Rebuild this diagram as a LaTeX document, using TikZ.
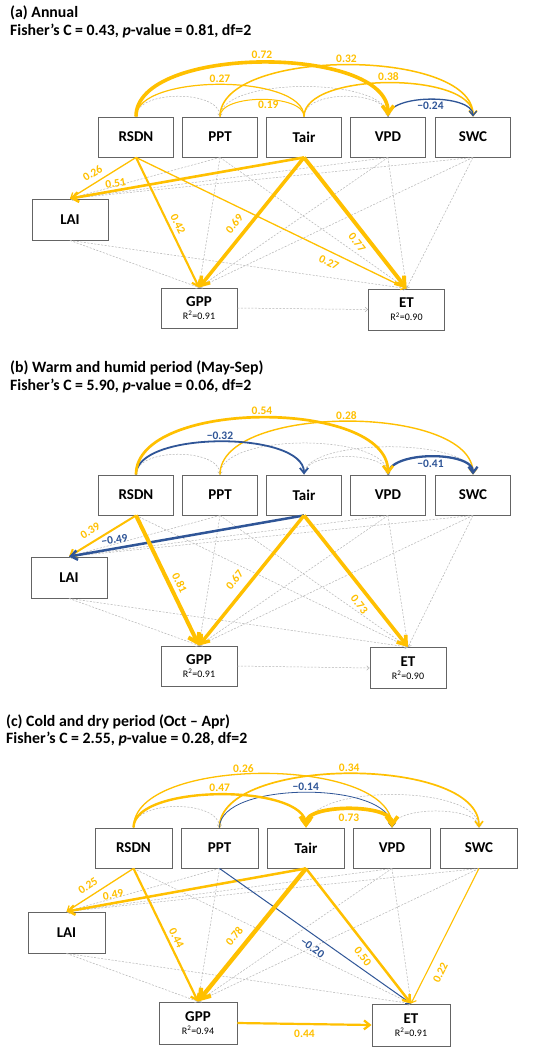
\documentclass[tikz,border=0pt]{standalone}
\usepackage{fontspec}
\setmainfont{Carlito}
\usetikzlibrary{arrows.meta,calc}
\definecolor{gold}{RGB}{255,192,0}
\definecolor{navy}{RGB}{47,85,151}
\definecolor{boxgray}{RGB}{100,100,100}
\definecolor{dashgray}{RGB}{180,180,180}
\newcommand{\rsq}[1]{{\normalfont\fontsize{10}{11}\selectfont R\textsuperscript{2}=#1}}
\tikzset{
  box/.style={draw=boxgray, line width=0.9pt, minimum width=75pt, minimum height=40pt, inner sep=0pt, align=center, font=\bfseries\fontsize{15}{16}\selectfont},
  tipa/.tip={Straight Barb[length=2.5pt 1.5, width=5pt 1.8]},
  posarr/.style={draw=gold, line width=#1pt, -{tipa}},
  negarr/.style={draw=navy, line width=#1pt, -{tipa}},
  nsarr/.style={draw=dashgray, line width=0.5pt, dash pattern=on 2pt off 1.5pt, -{Straight Barb[length=2.5pt, width=4.5pt]}},
  gl/.style={font=\bfseries\fontsize{11.5}{12}\selectfont, text=gold, inner sep=1pt},
  bl/.style={font=\bfseries\fontsize{11.5}{12}\selectfont, text=navy, inner sep=1pt},
  ttl/.style={anchor=west, font=\bfseries\fontsize{15.8}{17}\selectfont, inner sep=0pt},
}
\begin{document}
\begin{tikzpicture}[x=1pt, y=-1pt]
\useasboundingbox[fill=white] (0,0) rectangle (550,1050);

%%%%%%%%%%%%%%%% (a)
\node[ttl] (ta1) at (10,13) {(a) Annual};
\node[ttl] (ta2) at (10,31) {Fisher’s C = 0.43, \textit{p}-value = 0.81, df=2};
\node[box] (aR) at (136,137) {RSDN};
\node[box] (aP) at (220,137) {PPT};
\node[box] (aT) at (304,137) {Tair};
\node[box] (aV) at (388,137) {VPD};
\node[box] (aS) at (473,137) {SWC};
\node[box, minimum width=76pt, minimum height=41pt] (aL) at (70,219.5) {LAI};
\node[box, minimum width=76pt] (aG) at (199,308) {GPP\\[-3pt]\rsq{0.91}};
\node[box, minimum width=76pt, minimum height=41pt] (aE) at (406.5,309.5) {ET\\[-3pt]\rsq{0.90}};
% non significant
\foreach \s/\t in {aP/aL, aP/aG, aP/aE, aV/aL, aV/aG, aV/aE, aS/aL, aS/aG, aS/aE, aL/aG, aL/aE}
  \draw[nsarr] (\s.south) -- (\t.north);
\draw[nsarr] (aG.east) -- (aE.west);
\draw[nsarr] (aR.north) .. controls +(0,-27) and +(0,-27) .. (aP.north);
\draw[nsarr] (aP.north) .. controls +(0,-40) and +(0,-40) .. (aV.north);
\draw[nsarr] (aT.north) .. controls +(0,-27) and +(0,-27) .. (aV.north);
% arcs
\draw[gold, line width=1.2pt] (aR.north) .. controls +(0,-43) and +(0,-43) .. (aT.north) node[midway, above, gl] {0.27};
\draw[gold, line width=1pt] (aP.north) .. controls +(0,-23) and +(0,-23) .. (aT.north) node[pos=0.55, below, gl] {0.19};
\draw[posarr=1.5] (aP.north) .. controls +(0,-69) and +(0,-69) .. (aS.north) node[midway, above, gl] {0.32};
\draw[posarr=1.5] (aT.north) .. controls +(0,-45) and +(0,-45) .. (aS.north) node[midway, above, gl] {0.38};
\draw[negarr=1.3] (aV.north) .. controls +(0,-23) and +(0,-23) .. (aS.north) node[midway, below=1pt, bl] {−0.24};
\draw[posarr=3.6] (aR.north) .. controls +(0,-72) and +(0,-72) .. (aV.north) node[midway, above=1pt, gl] {0.72};
% lower
\draw[posarr=1.3] (aR.south) -- (aL.north) node[pos=0.58, sloped, above=4pt, gl] {0.26};
\draw[posarr=1.3] (aR.south) -- (aE.north) node[pos=0.73, sloped, below=5pt, gl] {0.27};
\draw[posarr=2.1] (aR.south) -- (aG.north) node[pos=0.54, sloped, above=3pt, gl] {0.42};
\draw[posarr=2.6] (aT.south) -- (aL.north) node[pos=0.8, sloped, above=1pt, gl] {0.51};
\draw[posarr=3.5] (aT.south) -- (aG.north) node[pos=0.57, sloped, above=6pt, gl] {0.69};
\draw[posarr=3.9] (aT.south) -- (aE.north) node[pos=0.6, sloped, below=4pt, gl] {0.77};

%%%%%%%%%%%%%%%% (b)
\node[ttl] (tb1) at (10,368) {(b) Warm and humid period (May-Sep)};
\node[ttl] (tb2) at (10,386) {Fisher’s C = 5.90, \textit{p}-value = 0.06, df=2};
\node[box] (bR) at (136,495) {RSDN};
\node[box] (bP) at (220,495) {PPT};
\node[box] (bT) at (304,495) {Tair};
\node[box] (bV) at (388,495) {VPD};
\node[box] (bS) at (473,495) {SWC};
\node[box, minimum width=76pt, minimum height=41pt] (bL) at (69,577.5) {LAI};
\node[box, minimum width=76pt] (bG) at (199,666) {GPP\\[-3pt]\rsq{0.91}};
\node[box, minimum width=76pt, minimum height=41pt] (bE) at (408,668) {ET\\[-3pt]\rsq{0.90}};
\foreach \s/\t in {bR/bE, bP/bL, bP/bG, bP/bE, bV/bL, bV/bG, bV/bE, bS/bL, bS/bG, bS/bE, bL/bG, bL/bE}
  \draw[nsarr] (\s.south) -- (\t.north);
\draw[nsarr] (bG.east) -- (bE.west);
\draw[nsarr] (bR.north) .. controls +(0,-27) and +(0,-27) .. (bP.north);
\draw[nsarr] (bP.north) .. controls +(0,-42) and +(0,-42) .. (bV.north);
\draw[nsarr] (bT.north) .. controls +(0,-37) and +(0,-37) .. (bS.north);
\draw[nsarr] (bT.north) .. controls +(0,-24) and +(0,-24) .. (bV.north);
\draw[posarr=1.4] (bP.north) .. controls +(0,-71) and +(0,-71) .. (bS.north) node[midway, above, gl] {0.28};
\draw[negarr=1.8] (bR.north) .. controls +(0,-44) and +(0,-44) .. (bT.north) node[midway, above, bl] {−0.32};
\draw[negarr=2.3] (bV.north) .. controls +(0,-24) and +(0,-24) .. (bS.north) node[midway, below=1.5pt, bl] {−0.41};
\draw[posarr=2.7] (bR.north) .. controls +(0,-76) and +(0,-76) .. (bV.north) node[midway, above=1pt, gl] {0.54};
\draw[posarr=2] (bR.south) -- (bL.north) node[pos=0.6, sloped, above=5pt, gl] {0.39};
\draw[negarr=2.5] (bT.south) -- (bL.north) node[pos=0.8, sloped, above=2.5pt, bl] {−0.49};
\draw[posarr=4] (bR.south) -- (bG.north) node[pos=0.55, sloped, above=3pt, gl] {0.81};
\draw[posarr=3.4] (bT.south) -- (bG.north) node[pos=0.56, sloped, above=7pt, gl] {0.67};
\draw[posarr=3.6] (bT.south) -- (bE.north) node[pos=0.62, sloped, below=5pt, gl] {0.73};

%%%%%%%%%%%%%%%% (c)
\node[ttl] (tc1) at (6,722) {(c) Cold and dry period (Oct – Apr)};
\node[ttl] (tc2) at (6,739) {Fisher’s C = 2.55, \textit{p}-value = 0.28, df=2};
\node[box, minimum width=77pt] (cR) at (133.5,848) {RSDN};
\node[box, minimum width=77pt] (cP) at (219.5,848) {PPT};
\node[box, minimum width=77pt] (cT) at (306,848) {Tair};
\node[box, minimum width=77pt] (cV) at (392,848) {VPD};
\node[box, minimum width=77pt] (cS) at (479,848) {SWC};
\node[box, minimum width=77pt, minimum height=41pt] (cL) at (66.5,932.5) {LAI};
\node[box, minimum width=78pt, minimum height=42pt] (cG) at (198,1023) {GPP\\[-3pt]\rsq{0.94}};
\node[box, minimum width=78pt, minimum height=42pt] (cE) at (411,1025) {ET\\[-3pt]\rsq{0.91}};
\foreach \s/\t in {cR/cE, cP/cL, cP/cG, cV/cL, cV/cG, cV/cE, cS/cL, cS/cG, cL/cG, cL/cE}
  \draw[nsarr] (\s.south) -- (\t.north);
\draw[nsarr] (cR.north) .. controls +(0,-28) and +(0,-28) .. (cP.north);
\draw[nsarr] (cT.north) .. controls +(0,-44) and +(0,-44) .. (cS.north);
\draw[nsarr] (cV.north) .. controls +(0,-22) and +(0,-22) .. (cS.north);
\draw[posarr=1.3] (cR.north) .. controls +(0,-72) and +(0,-72) .. (cV.north) node[pos=0.45, above, gl] {0.26};
\draw[posarr=1.7] (cP.north) .. controls +(0,-72) and +(0,-72) .. (cS.north) node[midway, above, gl] {0.34};
\draw[negarr=0.8] (cP.north) .. controls +(0,-47) and +(0,-47) .. (cV.north) node[midway, above, bl] {−0.14};
\draw[posarr=2.4] (cR.north) .. controls +(0,-44) and +(0,-44) .. (cT.north) node[midway, above=1pt, gl] {0.47};
\draw[posarr=3.7, {tipa}-{tipa}] (cV.north) .. controls +(0,-24) and +(0,-24) .. (cT.north) node[midway, below=2pt, gl] {0.73};
\draw[posarr=1.3] (cR.south) -- (cL.north) node[pos=0.6, sloped, above=4.5pt, gl] {0.25};
\draw[posarr=2.5] (cT.south) -- (cL.north) node[pos=0.8, sloped, above=2pt, gl] {0.49};
\draw[posarr=2.2] (cR.south) -- (cG.north) node[pos=0.55, sloped, above=2.5pt, gl] {0.44};
\draw[negarr=1] (cP.south) -- (cE.north) node[pos=0.52, sloped, below=6pt, bl] {−0.20};
\draw[posarr=2.5] (cT.south) -- (cE.north) node[pos=0.61, sloped, below=3pt, gl] {0.50};
\draw[posarr=1.1] (cS.south) -- (cE.north) node[pos=0.73, sloped, below=7pt, gl] {0.22};
\draw[posarr=4.3] (cT.south) -- (cG.north) node[pos=0.57, sloped, above=6pt, gl] {0.78};
\draw[posarr=2.2] (cG.east) -- (cE.west) node[midway, below=4pt, gl] {0.44};
\end{tikzpicture}
\end{document}
